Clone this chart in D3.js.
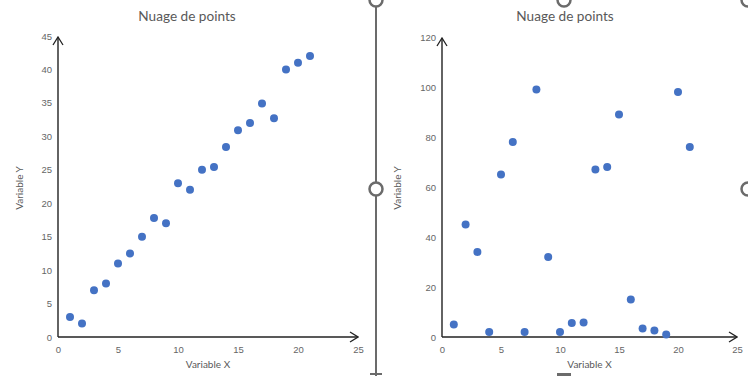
<!DOCTYPE html>
<html>
<head>
<meta charset="utf-8">
<script src="https://cdn.jsdelivr.net/npm/d3@7"></script>
<style>
  body { margin: 0; background: #fff; }
  svg { display: block; font-family: Lato, "Open Sans", sans-serif; }
  .tick text { fill: #666; font-size: 9.5px; }
  .title { fill: #595959; font-size: 13.6px; }
  .axis-label { fill: #595959; font-size: 10px; }
</style>
</head>
<body>
<svg id="chart" width="748" height="376"></svg>
<script>
// data
const xValues = [1, 2, 3, 4, 5, 6, 7, 8, 9, 10, 11, 12, 13, 14, 15, 16, 17, 18, 19, 20, 21];
const leftY  = [3, 2, 7, 8, 11, 12.5, 15, 17.8, 17, 23, 22, 25, 25.4, 28.4, 30.9, 32, 34.9, 32.7, 40, 41, 42];
const rightY = [5, 45, 34, 2, 65, 78, 2, 99, 32, 2, 5.6, 5.8, 67, 68, 89, 15, 3.4, 2.6, 1, 98, 76];
const xTicks = [0, 5, 10, 15, 20, 25];
const leftYTicks  = [0, 5, 10, 15, 20, 25, 30, 35, 40, 45];
const rightYTicks = [0, 20, 40, 60, 80, 100, 120];
const chartTitle = "Nuage de points";
const xLabel = "Variable X";
const yLabel = "Variable Y";

const svg = d3.select("#chart");

svg.append("defs").append("marker")
  .attr("id", "arrow")
  .attr("viewBox", "0 0 10 12")
  .attr("refX", 9).attr("refY", 6)
  .attr("markerWidth", 10).attr("markerHeight", 12)
  .attr("markerUnits", "userSpaceOnUse")
  .attr("orient", "auto")
  .append("path")
  .attr("d", "M1,1 L9,6 L1,11")
  .attr("fill", "none")
  .attr("stroke", "#222")
  .attr("stroke-width", 1.3);

function drawScatter(g, cfg) {
  let x = d3.scaleLinear().domain([0, 25]).range([cfg.x0, cfg.x1]);
  let y = d3.scaleLinear().domain([0, cfg.yMax]).range([cfg.y0, cfg.y1]);

  g.append("g") // y tick labels
    .attr("transform", `translate(${cfg.x0},0)`)
    .call(d3.axisLeft(y).tickValues(cfg.yTicks).tickSize(0).tickPadding(6))
    .call(a => a.select(".domain").remove());

  g.append("g") // x tick labels
    .attr("transform", `translate(0,${cfg.y0})`)
    .call(d3.axisBottom(x).tickValues(xTicks).tickSize(0).tickPadding(9))
    .call(a => a.select(".domain").remove());

  g.append("line") // y axis with arrow
    .attr("x1", x(0)).attr("y1", y(0))
    .attr("x2", x(0)).attr("y2", y(cfg.yMax) + 1)
    .attr("stroke", "#222").attr("stroke-width", 1.4)
    .attr("marker-end", "url(#arrow)");

  g.append("line") // x axis with arrow
    .attr("x1", x(0)).attr("y1", y(0))
    .attr("x2", x(25)).attr("y2", y(0))
    .attr("stroke", "#222").attr("stroke-width", 1.4)
    .attr("marker-end", "url(#arrow)");

  g.selectAll("circle.dot")
    .data(cfg.values)
    .enter()
    .append("circle")
    .attr("class", "dot")
    .attr("cx", (d, i) => x(xValues[i]))
    .attr("cy", d => y(d))
    .attr("r", 4)
    .attr("fill", "#4472C4");

  g.append("text")
    .attr("class", "title")
    .attr("x", cfg.titleX).attr("y", 21)
    .attr("text-anchor", "middle")
    .text(chartTitle);

  g.append("text")
    .attr("class", "axis-label")
    .attr("x", (cfg.x0 + cfg.x1) / 2).attr("y", 368)
    .attr("text-anchor", "middle")
    .text(xLabel);

  g.append("text")
    .attr("class", "axis-label")
    .attr("transform", `translate(${cfg.yLabelX},188) rotate(-90)`)
    .attr("text-anchor", "middle")
    .text(yLabel);
}

drawScatter(svg.append("g"), {
  x0: 58, x1: 358, y0: 337, y1: 36, yMax: 45,
  yTicks: leftYTicks, values: leftY, titleX: 187, yLabelX: 23
});

drawScatter(svg.append("g"), {
  x0: 442, x1: 737, y0: 337, y1: 37, yMax: 120,
  yTicks: rightYTicks, values: rightY, titleX: 565, yLabelX: 401
});

// selection frame of the right chart (handles as in the spreadsheet)
const frame = svg.append("g").attr("stroke", "#6b6b6b").attr("fill", "#fff");
frame.append("line")
  .attr("x1", 376).attr("y1", 0).attr("x2", 376).attr("y2", 376)
  .attr("stroke-width", 2);
frame.append("line")
  .attr("x1", 370).attr("y1", 374).attr("x2", 382).attr("y2", 374)
  .attr("stroke-width", 2);
[[376, 0], [376, 189], [564, 0], [748, 0], [748, 189]].forEach(p => {
  frame.append("circle")
    .attr("cx", p[0]).attr("cy", p[1]).attr("r", 6.5)
    .attr("stroke-width", 2.5);
});
frame.append("rect")
  .attr("x", 557).attr("y", 373).attr("width", 14).attr("height", 4)
  .attr("fill", "#6b6b6b").attr("stroke", "none");
</script>
</body>
</html>
